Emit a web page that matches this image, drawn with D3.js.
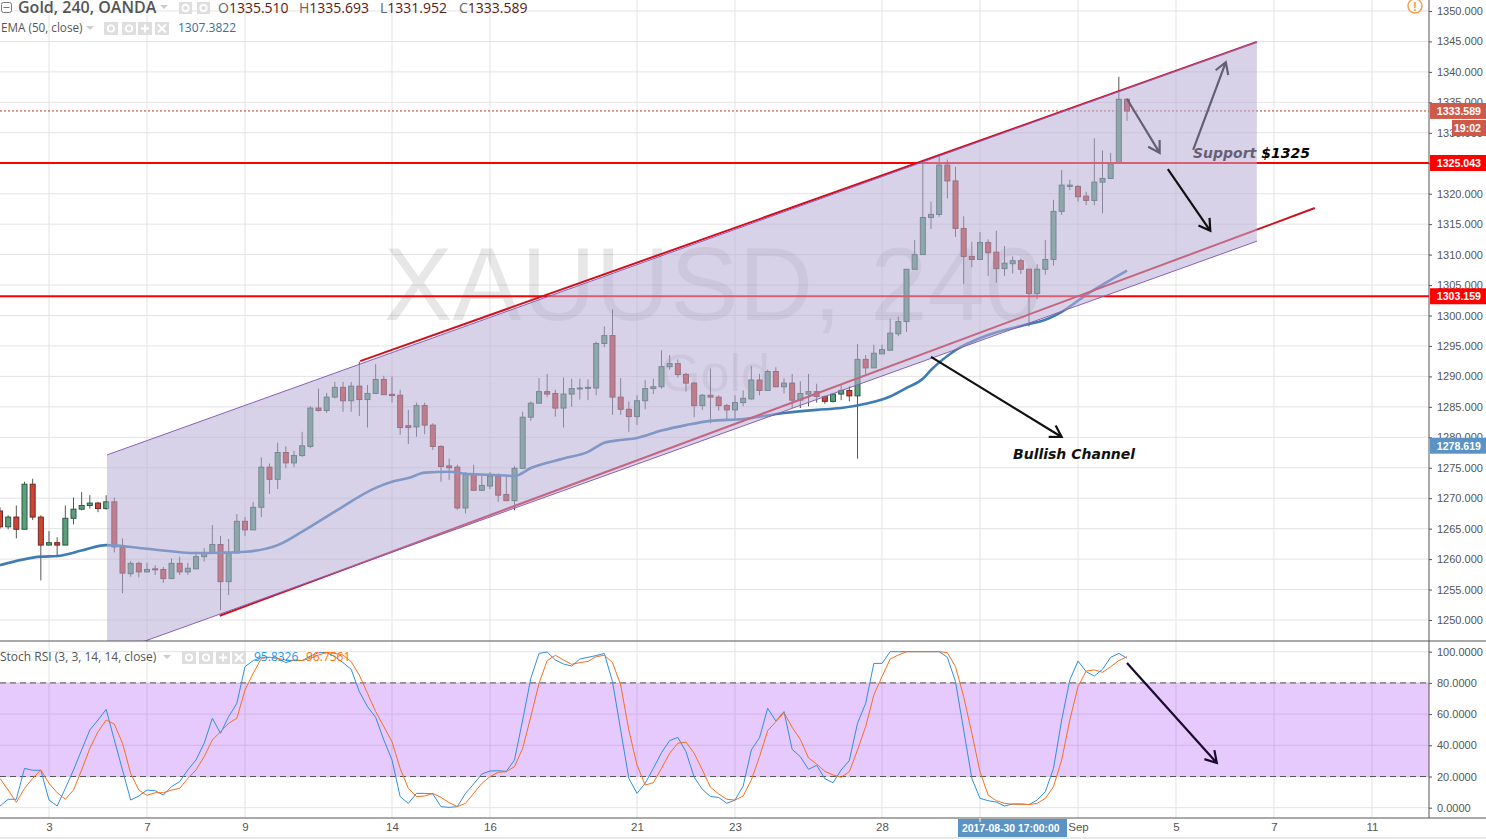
<!DOCTYPE html>
<html lang="en">
<head>
  <meta charset="UTF-8" />
  <title>Gold, 240, OANDA</title>
  <script src="https://d3js.org/d3.v7.min.js"></script>
  <style>
    body { margin: 0; background: #fff; overflow: hidden; }
    svg { display: block; }
    text { font-family: "Liberation Sans", Arial, sans-serif; }
    .note { font-family: "DejaVu Sans", sans-serif; font-weight: bold; font-style: italic; }
  </style>
</head>
<body>

<svg width="1486" height="839"></svg>

<script>
  // bar numbers run from firstBar to lastBar, bar 0 is the candle on the "3" tick
  const firstBar = -6;

  const opens = [
    1267.9,1265.3,1266.9,1264.9,1272.3,1266.9,1262.3,1262.7,1262.3,1266.7,
    1268.2,1268.8,1269.2,1268.3,1269.4,1262.0,1257.6,1259.3,1257.9,1258.4,
    1258.3,1256.8,1259.3,1257.9,1258.4,1260.4,1261.0,1262.4,1256.3,1261.0,
    1266.2,1264.8,1268.5,1275.1,1273.1,1277.5,1275.8,1277.0,1278.5,1284.8,
    1284.4,1286.6,1288.2,1286.0,1288.4,1286.2,1287.2,1289.5,1287.05,1286.9,
    1281.9,1281.7,1285.2,1282.0,1278.5,1275.3,1275.1,1268.4,1274.0,1271.3,
    1272.0,1273.6,1270.6,1269.6,1274.9,1283.3,1285.6,1287.5,1287.2,1284.8,
    1287.1,1288.0,1288.1,1288.1,1295.4,1296.7,1286.6,1284.6,1283.4,1286.0,
    1288.0,1288.3,1291.6,1292.1,1290.3,1288.9,1285.2,1286.9,1286.6,1285.2,
    1284.5,1285.7,1286.3,1289.4,1287.7,1290.8,1288.3,1288.9,1286.1,1287.1,
    1287.5,1286.7,1285.9,1287.1,1287.7,1286.8,1292.8,1291.4,1293.7,1294.3,
    1297.0,1299.0,1307.6,1310.0,1316.1,1316.6,1324.7,1322.1,1314.3,1309.7,
    1309.2,1312.0,1310.4,1307.7,1308.5,1309.0,1307.6,1303.6,1307.6,1309.2,
    1317.1,1321.2,1321.2,1319.6,1318.9,1321.9,1322.5,1325.0,1335.51
  ];
  const closes = [
    1265.3,1266.9,1264.9,1272.3,1266.9,1262.3,1262.7,1262.3,1266.7,1268.2,
    1268.8,1269.2,1268.3,1269.4,1262.0,1257.7,1259.3,1257.9,1258.3,1258.3,
    1256.8,1259.3,1257.9,1258.5,1260.4,1261.0,1262.4,1256.3,1261.0,1266.2,
    1264.8,1268.5,1275.1,1273.1,1277.5,1275.8,1277.0,1278.6,1284.8,1284.4,
    1286.6,1288.2,1286.0,1288.4,1286.2,1287.2,1289.5,1287.0,1286.85,1281.6,
    1281.6,1285.2,1282.0,1278.5,1275.2,1275.0,1268.4,1274.0,1271.3,1272.1,
    1273.6,1270.5,1269.6,1274.9,1283.3,1285.6,1287.5,1287.1,1284.8,1287.1,
    1288.0,1288.1,1288.2,1295.4,1296.7,1286.6,1284.6,1283.4,1286.0,1288.0,
    1288.3,1291.6,1292.1,1290.3,1288.9,1285.2,1286.9,1286.6,1285.2,1284.5,
    1285.7,1286.4,1289.4,1287.7,1290.8,1288.3,1288.9,1286.1,1287.2,1287.5,
    1286.7,1285.9,1287.1,1287.7,1286.8,1292.8,1291.4,1293.8,1294.4,1297.1,
    1299.0,1307.6,1310.0,1316.1,1316.6,1324.7,1322.1,1314.3,1309.7,1309.2,
    1312.0,1310.3,1307.7,1308.6,1309.0,1307.6,1303.6,1307.6,1309.2,1317.1,
    1321.4,1321.4,1319.5,1318.9,1321.9,1322.5,1324.9,1335.5,1333.589
  ];
  const highs = [
    1268.5,1267.2,1268.8,1272.7,1273.2,1267.2,1264.6,1263.6,1268.8,1270.1,
    1271.0,1270.5,1269.4,1270.5,1270.1,1263.4,1259.7,1259.6,1259.4,1259.0,
    1258.7,1260.1,1260.4,1259.4,1261.2,1261.8,1265.6,1263.8,1263.3,1267.4,
    1266.9,1269.4,1276.7,1275.7,1279.1,1278.5,1277.8,1280.9,1285.1,1288.0,
    1287.3,1289.1,1289.1,1289.1,1292.4,1288.6,1292.0,1290.1,1290.0,1287.8,
    1284.5,1285.7,1285.7,1282.3,1278.7,1276.5,1275.5,1274.3,1275.5,1273.8,
    1274.3,1274.1,1273.5,1275.3,1284.2,1285.9,1289.7,1290.4,1287.8,1289.8,
    1289.6,1289.6,1289.5,1295.7,1298.2,1301.0,1289.7,1285.9,1286.9,1289.4,
    1289.6,1294.3,1293.5,1292.8,1290.6,1289.1,1287.1,1291.3,1286.9,1285.5,
    1286.9,1287.7,1291.7,1290.4,1291.1,1291.5,1289.7,1290.4,1289.2,1290.4,
    1288.8,1286.9,1287.2,1288.6,1288.4,1295.3,1293.5,1295.2,1295.2,1299.5,
    1299.8,1307.6,1312.4,1325.3,1318.7,1326.4,1325.6,1324.4,1316.3,1312.1,
    1313.7,1312.5,1313.9,1311.4,1309.7,1309.4,1307.6,1308.4,1312.4,1319.0,
    1323.9,1322.3,1321.4,1320.3,1329.1,1327.1,1326.7,1339.2,1335.693
  ];
  const lows = [
    1265.0,1264.9,1263.4,1264.9,1266.4,1256.5,1262.3,1260.3,1262.3,1265.7,
    1268.0,1268.3,1267.7,1268.1,1261.1,1254.4,1257.1,1257.0,1257.8,1257.4,
    1256.1,1256.8,1257.4,1257.4,1258.4,1259.6,1261.0,1251.6,1254.1,1261.0,
    1263.8,1264.8,1266.9,1270.7,1271.5,1274.9,1275.1,1276.8,1278.2,1284.2,
    1284.0,1286.4,1284.2,1284.2,1283.5,1281.6,1287.2,1287.0,1285.7,1280.4,
    1278.9,1280.1,1280.5,1277.9,1272.7,1273.0,1268.1,1267.5,1271.3,1271.3,
    1271.5,1269.4,1269.6,1268.0,1274.9,1282.7,1285.6,1286.6,1283.4,1281.6,
    1285.0,1286.2,1286.1,1286.9,1294.8,1283.7,1283.7,1280.9,1282.0,1284.6,
    1287.1,1288.0,1291.1,1289.8,1287.5,1283.3,1284.5,1282.3,1284.4,1283.0,
    1283.0,1285.1,1286.2,1286.9,1287.7,1288.2,1287.2,1284.8,1284.8,1285.1,
    1285.7,1285.5,1285.7,1286.1,1285.9,1276.5,1290.4,1291.4,1293.7,1294.3,
    1296.6,1297.3,1307.5,1310.0,1314.2,1316.2,1319.2,1312.9,1305.2,1307.9,
    1309.2,1306.5,1305.4,1306.5,1306.9,1306.8,1298.2,1302.7,1306.7,1308.2,
    1316.5,1320.6,1318.7,1318.1,1318.1,1316.8,1322.5,1325.0,1331.952
  ];

  const emaBars = [-6,-1,1,4,7,12,18,21,24,28,31,35,40,42,44,46,49,51,54,57,59,63,66,68,70,72,75,78,81,85,90,94,97,100,103,105,107,108,111,115,120,122,124,127,132];
  const emaValues = [1259.0,1260.4,1260.5,1261.4,1262.3,1261.7,1261.0,1261.05,1261.2,1262.3,1264.5,1267.8,1271.7,1272.7,1273.3,1274.2,1274.35,1274.0,1273.85,1273.65,1274.95,1276.5,1277.6,1279.1,1279.55,1279.9,1281.1,1282.0,1282.7,1283.0,1284.0,1284.5,1284.8,1285.5,1286.7,1288.1,1289.6,1291.05,1294.3,1296.8,1298.6,1299.3,1300.6,1303.4,1307.38];

  const stochK = [
    1.1,5.4,5.4,25.2,24,24,4.9,1.1,12.4,24.2,
    37,49.8,56.2,63,43.4,24.2,4.9,7.5,11.3,10.9,
    8.1,13.5,16.7,24.2,30.6,41.3,57.3,47.7,58.4,66.9,
    90.4,94.3,96.4,96.4,95.7,93,94.7,94.3,97.2,99.4,
    99.4,96.8,93,88.7,74.4,64.8,57.9,43.4,30.6,7.1,
    2.8,9.2,9.2,8.8,0.7,0.2,0.7,9.2,15.2,21.6,
    23.5,23.7,23.3,30.6,56.2,82.9,98.9,99.8,94.7,92.1,
    90.8,95.3,96.4,97.5,98.9,80.8,49.8,18.8,9.2,15.6,
    25.2,35.3,43,45.1,35.9,19.5,11.8,7.1,6.6,2.8,
    4.9,13.9,37,44.9,63.7,55.6,61.6,37.4,32.7,24.6,
    27.2,18.6,16,24.2,30.2,54.1,66.9,92.5,92.5,100,
    100,100,100,100,100,100,96.4,80.8,49.8,18.8,
    6,4.5,3.6,1.1,2.4,2.4,2,4.9,10.3,25.2,
    56.2,81.9,94,87.2,84.4,88.7,96.4,98.9,95.83
  ];
  const stochD = [
    18.8,11.3,3.4,12.4,18.8,24.2,15.6,9.6,5.4,11.3,
    24.2,38,48.7,56.2,53.6,41.3,22,11.3,7.9,9.6,
    9.6,11.3,12.4,18.8,24.2,32.7,43.4,48.7,54.1,57.3,
    75.4,86.1,95.7,96.4,95.7,94.7,94.3,94.3,95.7,97.9,
    99.4,98.9,97.9,93.6,85,73.3,61.6,52,42.3,25.2,
    12.4,7.1,7.5,9.2,6.6,3.2,0.7,2.8,9.2,15.6,
    19.9,22.7,23.1,26.3,38,58.4,79.7,94.3,97.7,94.7,
    91.9,93,93.8,96.8,97.7,93,78.7,49.8,27.4,14.5,
    16,25.2,34.9,41.3,42.1,34.9,24.2,13.1,8.8,5.4,
    4.9,7.5,17.8,32.7,49.4,55.1,60.9,51.5,43.8,31.9,
    28,23.3,21,19.5,23.1,37,52,72.2,84,95.3,
    97.9,100,100,100,100,100,99.4,90.4,71.2,47.7,
    23.1,8.1,4.5,2.8,2.2,2.2,2,2.8,6,13.5,
    30.6,56.2,77.6,87.6,88.3,86.8,90.4,94.3,96.76
  ];

  const priceTicks = d3.range(1250, 1351, 5);
  const stochTicks = [0, 20, 40, 60, 80, 100];
  const timeTickBars = [0, 12, 24, 42, 54, 72, 84, 102, 114, 126, 138, 150, 162];
  // the "30" tick sits under the date flag, only its grid line shows
  const timeTickLabels = ["3", "7", "9", "14", "16", "21", "23", "28", "", "Sep", "5", "7", "11"];

  const supportLevels = [1325.043, 1303.159];
  const lastPrice = 1333.589;

  // channel and drawn lines, in [bar, price]
  const channelTop = [[7.1, 1277.1], [147.9, 1344.9]];
  const channelBottom = [[147.9, 1312.2], [7.1, 1244.3]];
  const redLines = [
    [[38.1, 1292.5], [147.9, 1344.9]],
    [[20.9, 1250.7], [155, 1317.65]]
  ];
  const arrowsUnderChannel = [
    { from: [132, 1335.55], to: [136, 1326.7], color: "#000" },
    { from: [140.1, 1327.2], to: [144.1, 1341.6], color: "#000" }
  ];
  const arrowsOverChannel = [
    { from: [108, 1293.2], to: [124, 1280.05], color: "#111" },
    { from: [137, 1324.05], to: [142.2, 1313.9], color: "#111" }
  ];
  const stochArrow = { from: [132, 92.8], to: [143, 28.7], color: "#1a0a2e" };

  const bars = opens.map((o, i) => ({
    bar: firstBar + i, open: o, close: closes[i], high: highs[i], low: lows[i]
  }));

  const svg = d3.select("svg");
  const width = 1486;
  const paneRight = 1429, mainBottom = 641, stochBottom = 818;

  const x = d3.scaleLinear().domain([0, 132]).range([49, 1127]);
  const y = d3.scaleLinear().domain([1250, 1350]).range([620, 11]);
  const yStoch = d3.scaleLinear().domain([0, 100]).range([807.7, 651.7]);

  const defs = svg.append("defs");
  defs.append("clipPath").attr("id", "mainClip").append("rect")
    .attr("width", paneRight).attr("height", mainBottom);
  defs.append("clipPath").attr("id", "stochClip").append("rect")
    .attr("y", mainBottom).attr("width", paneRight).attr("height", stochBottom - mainBottom);

  const main = svg.append("g").attr("clip-path", "url(#mainClip)");
  const stoch = svg.append("g").attr("clip-path", "url(#stochClip)");

  // Grid
  const gridColor = "#e3e3e3";
  main.selectAll(".hgrid").data(priceTicks).enter().append("line")
    .attr("x1", 0).attr("x2", paneRight)
    .attr("y1", d => y(d)).attr("y2", d => y(d))
    .attr("stroke", gridColor);
  [main, stoch].forEach(g => {
    g.selectAll(".vgrid").data(timeTickBars).enter().append("line")
      .attr("class", "vgrid")
      .attr("x1", d => x(d)).attr("x2", d => x(d))
      .attr("y1", 0).attr("y2", stochBottom)
      .attr("stroke", gridColor);
  });

  // Watermark
  main.append("text").text("XAUUSD, 240")
    .attr("x", 713).attr("y", 320).attr("text-anchor", "middle")
    .attr("font-size", 103).attr("fill", "#000").attr("opacity", 0.09);
  main.append("text").text("Gold")
    .attr("x", 715).attr("y", 391).attr("text-anchor", "middle")
    .attr("font-size", 52).attr("fill", "#000").attr("opacity", 0.09);

  // Candles
  const candles = main.selectAll(".candle").data(bars).enter().append("g").attr("class", "candle");
  candles.append("line")
    .attr("x1", d => x(d.bar)).attr("x2", d => x(d.bar))
    .attr("y1", d => y(d.high)).attr("y2", d => y(d.low))
    .attr("stroke", "#555");
  candles.append("rect")
    .attr("x", d => x(d.bar) - 2.5).attr("width", 5)
    .attr("y", d => y(Math.max(d.open, d.close)))
    .attr("height", d => Math.max(1, Math.abs(y(d.open) - y(d.close))))
    .attr("fill", d => d.close >= d.open ? "#5c9f7c" : "#cf4334")
    .attr("stroke", d => d.close >= d.open ? "#2c5a44" : "#6e2a22");

  // EMA
  main.append("path")
    .attr("d", d3.line().x((d, i) => x(emaBars[i])).y(d => y(d)).curve(d3.curveMonotoneX)(emaValues))
    .attr("fill", "none").attr("stroke", "#3f7cb3").attr("stroke-width", 2.6);

  // Red lines sit under the channel fill, it tints them
  const lineXY = d3.line().x(d => x(d[0])).y(d => y(d[1]));
  main.selectAll(".level").data(supportLevels).enter().append("line")
    .attr("x1", 0).attr("x2", paneRight)
    .attr("y1", d => y(d)).attr("y2", d => y(d))
    .attr("stroke", "#f00").attr("stroke-width", 2);
  main.selectAll(".redline").data(redLines).enter().append("path")
    .attr("d", lineXY).attr("stroke", "#d0101c").attr("stroke-width", 2).attr("fill", "none");
  main.append("line")
    .attr("x1", 0).attr("x2", paneRight)
    .attr("y1", y(lastPrice)).attr("y2", y(lastPrice))
    .attr("stroke", "#b0392b").attr("stroke-dasharray", "2,2");

  // Arrows, with an open head
  function drawArrow(parent, py, a) {
    const x1 = x(a.from[0]), y1 = py(a.from[1]), x2 = x(a.to[0]), y2 = py(a.to[1]);
    const ang = Math.atan2(y2 - y1, x2 - x1);
    const head = [ang + 2.6, ang - 2.6].map(t => [x2 + 13 * Math.cos(t), y2 + 13 * Math.sin(t)]);
    parent.append("path")
      .attr("d", `M${x1},${y1}L${x2},${y2}M${head[0]}L${x2},${y2}L${head[1]}`)
      .attr("fill", "none").attr("stroke", a.color).attr("stroke-width", 2.2);
  }

  // These two and the Support note were drawn before the channel in the original
  arrowsUnderChannel.forEach(a => drawArrow(main, y, a));
  main.append("text").attr("class", "note").text("Support $1325")
    .attr("x", 1193).attr("y", 158).attr("font-size", 14).attr("fill", "#000");

  // Channel
  main.append("path")
    .attr("d", lineXY(channelTop.concat(channelBottom)) + "Z")
    .attr("fill", "rgb(184,173,213)").attr("fill-opacity", 0.55);
  [channelTop, channelBottom].forEach(seg => {
    main.append("path").attr("d", lineXY(seg))
      .attr("stroke", "#8a5fb5").attr("fill", "none");
  });

  // Stoch pane
  stoch.selectAll(".hgrid").data(stochTicks).enter().append("line")
    .attr("x1", 0).attr("x2", paneRight)
    .attr("y1", d => yStoch(d)).attr("y2", d => yStoch(d))
    .attr("stroke", gridColor);
  stoch.append("rect")
    .attr("x", 0).attr("width", paneRight)
    .attr("y", yStoch(80)).attr("height", yStoch(20) - yStoch(80))
    .attr("fill", "#9c27f6").attr("fill-opacity", 0.25);
  stoch.selectAll(".band").data([20, 80]).enter().append("line")
    .attr("x1", 0).attr("x2", paneRight)
    .attr("y1", d => yStoch(d)).attr("y2", d => yStoch(d))
    .attr("stroke", "#555").attr("stroke-dasharray", "6,4");

  const stochLine = d3.line().x((d, i) => x(firstBar + i)).y(d => yStoch(d));
  stoch.append("path").attr("d", stochLine(stochK))
    .attr("fill", "none").attr("stroke", "#2f8fe0");
  stoch.append("path").attr("d", stochLine(stochD))
    .attr("fill", "none").attr("stroke", "#f5701c");

  arrowsOverChannel.forEach(a => drawArrow(svg, y, a));
  drawArrow(svg, yStoch, stochArrow);

  svg.append("text").attr("class", "note").text("Bullish Channel")
    .attr("x", 1013).attr("y", 459).attr("font-size", 14).attr("fill", "#111");

  // Axis panes
  svg.append("line").attr("x1", 0).attr("x2", width).attr("y1", mainBottom).attr("y2", mainBottom)
    .attr("stroke", "#555");
  svg.append("line").attr("x1", 0).attr("x2", width).attr("y1", stochBottom).attr("y2", stochBottom)
    .attr("stroke", "#555");
  svg.append("line").attr("x1", paneRight).attr("x2", paneRight).attr("y1", 0).attr("y2", stochBottom)
    .attr("stroke", "#555");
  svg.append("rect").attr("y", 837).attr("width", width).attr("height", 2).attr("fill", "#e8e8e8");

  function styleAxis(g) {
    g.select(".domain").remove();
    g.selectAll("line").attr("stroke", "#555");
    g.selectAll("text").attr("fill", "#555").attr("font-size", 11)
      .attr("font-family", "'Liberation Sans', Arial, sans-serif");
  }
  svg.append("g").attr("transform", `translate(${paneRight},0)`)
    .call(d3.axisRight(y).tickValues(priceTicks).tickFormat(d3.format(".3f")).tickSize(3).tickPadding(5))
    .call(styleAxis);
  svg.append("g").attr("transform", `translate(${paneRight},0)`)
    .call(d3.axisRight(yStoch).tickValues(stochTicks).tickFormat(d3.format(".4f")).tickSize(3).tickPadding(5))
    .call(styleAxis);
  svg.append("g").attr("transform", `translate(0,${stochBottom})`)
    .call(d3.axisBottom(x).tickValues(timeTickBars).tickFormat((d, i) => timeTickLabels[i]).tickSize(0).tickPadding(5))
    .call(styleAxis)
    .call(g => g.selectAll("text").attr("font-size", 11.5));

  // Axis flags
  function flag(text, bg, left, cy) {
    svg.append("rect").attr("x", left).attr("y", cy - 8).attr("width", width - left).attr("height", 16)
      .attr("fill", bg);
    svg.append("text").text(text).attr("x", width - 5).attr("y", cy + 4)
      .attr("text-anchor", "end").attr("fill", "#fff").attr("font-size", 10.6).attr("font-weight", "bold");
  }
  flag("1333.589", "#cf5a4a", 1430, y(lastPrice));
  flag("19:02", "#cf5a4a", 1452, 128);
  supportLevels.forEach(d => flag(d3.format(".3f")(d), "#f00", 1430, y(d)));
  flag("1278.619", "#5b93c5", 1430, y(1278.619));

  svg.append("rect").attr("x", 958).attr("y", 819).attr("width", 109).attr("height", 18).attr("fill", "#5b93c5");
  svg.append("text").text("2017-08-30 17:00:00").attr("x", 962).attr("y", 832)
    .attr("fill", "#fff").attr("font-size", 10.4).attr("font-weight", "bold");
  svg.append("line").attr("x1", x(114)).attr("x2", x(114)).attr("y1", 818).attr("y2", 822).attr("stroke", "#fff");

  // Legends
  function legendText(txt, lx, ly, size, fill, weight) {
    return svg.append("text").text(txt)
      .attr("x", lx).attr("y", ly).attr("font-size", size).attr("fill", fill)
      .attr("font-weight", weight || "normal")
      .style("font-family", "'Open Sans', sans-serif");
  }
  function caret(cx, cy) {
    svg.append("path").attr("d", `M${cx - 4},${cy - 2}h8l-4,4Z`).attr("fill", "#ccc");
  }
  function iconBoxes(lefts, top, size) {
    lefts.forEach((lx, i) => {
      const cx = lx + size / 2, cy = top + (size - 1) / 2;
      svg.append("rect").attr("x", lx).attr("y", top).attr("width", size).attr("height", size - 1)
        .attr("fill", "#dedede");
      if (i < 2) {
        svg.append("circle").attr("cx", cx).attr("cy", cy).attr("r", 3.2)
          .attr("fill", "none").attr("stroke", "#fff").attr("stroke-width", 1.8);
      } else {
        const r = 4;
        const d = i === 2 ? `M${cx - r},${cy}h${2 * r}M${cx},${cy - r}v${2 * r}`
                          : `M${cx - r},${cy - r}l${2 * r},${2 * r}M${cx + r},${cy - r}l${-2 * r},${2 * r}`;
        svg.append("path").attr("d", d).attr("stroke", "#fff").attr("stroke-width", 2);
      }
    });
  }
  svg.append("rect").attr("x", 1.5).attr("y", 2.5).attr("width", 10).attr("height", 10)
    .attr("rx", 2).attr("fill", "#fff").attr("stroke", "#777");
  svg.append("line").attr("x1", 3.5).attr("x2", 9.5).attr("y1", 7.5).attr("y2", 7.5).attr("stroke", "#777");
  legendText("Gold, 240, OANDA", 18, 13, 16, "#555", 600);
  caret(164, 7);
  iconBoxes([179, 197], 2, 13);
  const ohlcLabels = ["O", "H", "L", "C"];
  const ohlcValues = ["1335.510", "1335.693", "1331.952", "1333.589"];
  const ohlcLefts = [218, 299, 380, 459];
  ohlcLabels.forEach((d, i) => {
    const t = legendText(d, ohlcLefts[i], 13, 14, "#666");
    t.append("tspan").text(ohlcValues[i]).attr("fill", "#5b1a13");
  });
  legendText("EMA (50, close)", 1, 32, 11.7, "#555");
  caret(90, 28);
  iconBoxes([104, 122, 138, 155], 22, 14);
  legendText("1307.3822", 178, 32, 12, "#3a6f9a");
  legendText("Stoch RSI (3, 3, 14, 14, close)", 0, 661, 12, "#555");
  caret(167, 657);
  iconBoxes([182, 199, 216, 232], 651, 14);
  legendText("95.8326", 254, 661, 12, "#2196f3");
  legendText("96.7561", 306, 661, 12, "#ff6d00");

  // Warning mark
  svg.append("circle").attr("cx", 1415).attr("cy", 6).attr("r", 7)
    .attr("fill", "#fff").attr("stroke", "#f0a050").attr("stroke-width", 1.5);
  svg.append("text").text("!").attr("x", 1415).attr("y", 11).attr("text-anchor", "middle")
    .attr("font-size", 13).attr("font-weight", "bold").attr("fill", "#f0a050");
</script>

</body>
</html>
